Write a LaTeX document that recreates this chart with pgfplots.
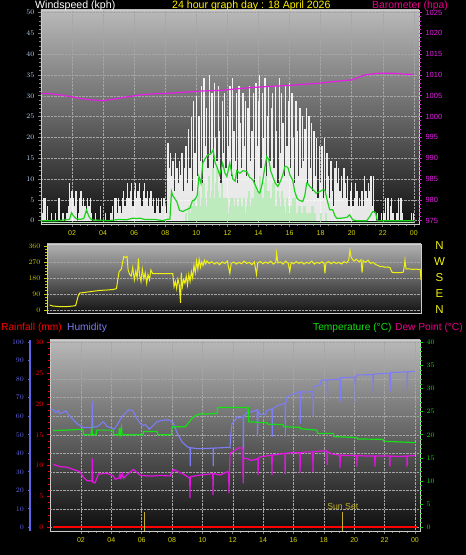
\documentclass[border=0pt]{standalone}
\usepackage{pgfplots}
\pgfplotsset{compat=1.18}
\usepackage{fontspec}
\setmainfont{Liberation Sans}
\definecolor{wlabel}{RGB}{190,220,255}
\definecolor{baro}{RGB}{230,30,230}
\definecolor{xyel}{RGB}{215,215,0}
\definecolor{dirlab}{RGB}{200,200,0}
\definecolor{diryel}{RGB}{240,240,20}
\definecolor{avggreen}{RGB}{30,210,30}
\definecolor{palegreen}{RGB}{190,235,190}
\definecolor{humblue}{RGB}{125,125,245}
\definecolor{humaxis}{RGB}{100,100,230}
\definecolor{tempgreen}{RGB}{20,225,20}
\definecolor{dewmag}{RGB}{228,20,228}
\definecolor{rainred}{RGB}{255,0,0}
\definecolor{gridc}{RGB}{165,165,165}
\definecolor{framec}{RGB}{205,205,205}
\definecolor{sunc}{RGB}{195,175,45}
\definecolor{bgtop}{RGB}{185,185,185}
\definecolor{bgbot}{RGB}{18,18,18}
\pgfplotsset{
  panel/.style={scale only axis, anchor=south west,
    tick label style={font=\fontsize{7}{8}\selectfont},
    major tick length=3pt, minor tick length=2pt, tick align=outside,
    every tick/.append style={line width=0.6pt},
  },
}
\begin{document}
\begin{tikzpicture}
\useasboundingbox (0,0) rectangle (466pt,555pt);
\fill[black] (0,0) rectangle (466pt,555pt);

% ---------------- top panel: wind speed ----------------
\begin{axis}[panel, at={(41pt,331pt)}, width=378pt, height=214pt,
  xmin=0, xmax=1460, ymin=-0.8, ymax=50.6,
  axis background/.style={top color=bgtop, bottom color=bgbot},
  axis line style={draw=framec, line width=0.8pt},
  xtick pos=left, ytick pos=left,
  xtick={120,240,...,1440}, xticklabels={02,04,06,08,10,12,14,16,18,20,22,00},
  minor x tick num=3,
  ytick={0,5,...,50}, minor y tick num=4,
  x tick label style={text=xyel},
  y tick label style={text=wlabel},
  xtick style={color=gray}, ytick style={color=gray},
  grid=major, grid style={gridc, densely dotted, line width=0.5pt},
]
\addplot[ycomb, white, line width=1.3pt, opacity=0.9, no marks] coordinates {
(0,0)(5,1.8)(10,5.4)(15,5.4)(20,0)(25,3.6)(30,0)(35,0)(40,1.8)(45,0)(50,0)(55,1.8)
(60,0)(65,0)(70,5.4)(75,0)(80,0)(85,1.8)(90,0)(95,0)(100,1.8)(105,3.6)(110,9)(115,5.4)
(120,7.2)(125,5.4)(130,3.6)(135,7.2)(140,0)(145,1.8)(150,5.4)(155,7.2)(160,3.6)(165,5.4)(170,3.6)(175,1.8)
(180,5.4)(185,3.6)(190,5.4)(195,1.8)(200,0)(205,0)(210,1.8)(215,0)(220,0)(225,0)(230,3.6)(235,0)
(240,0)(245,0)(250,1.8)(255,0)(260,0)(265,0)(270,1.8)(275,3.6)(280,0)(285,5.4)(290,5.4)(295,1.8)
(300,5.4)(305,3.6)(310,1.8)(315,5.4)(320,7.2)(325,3.6)(330,5.4)(335,9)(340,5.4)(345,7.2)(350,9)(355,3.6)
(360,7.2)(365,9)(370,5.4)(375,7.2)(380,9)(385,5.4)(390,3.6)(395,7.2)(400,9)(405,5.4)(410,7.2)(415,3.6)
(420,5.4)(425,7.2)(430,3.6)(435,5.4)(440,1.8)(445,5.4)(450,3.6)(455,5.4)(460,1.8)(465,5.4)(470,3.6)(475,5.4)
(480,3.6)(485,1.8)(490,18.6)(495,12.6)(500,16.2)(505,10.8)(510,14.4)(515,7.2)(520,16.2)(525,12.6)(530,9)(535,14.4)
(540,11)(545,16.2)(550,7.2)(555,12.6)
(560,18)(565,9)(570,22)(575,12.6)(580,25)(585,7.2)(590,28.8)(595,16.2)(600,30)(605,10.8)(610,25.2)(615,14.4)
(620,32.4)(625,9)(630,34.2)(635,18)(640,27)(645,12.6)(650,35)(655,16.2)(660,30.6)(665,10.8)(670,33)(675,19.8)
(680,14.4)(685,32.4)(690,21.6)(695,9)(700,28.8)(705,16.2)(710,30.6)(715,12.6)(720,25.2)(725,18)(730,32.4)(735,10.8)
(740,34.2)(745,21.6)(750,14.4)(755,30.6)(760,9)(765,32.4)(770,23.4)(775,12.6)(780,30.6)(785,18)(790,28.8)(795,10.8)
(800,27)(805,32.4)(810,14.4)(815,21.6)(820,30.6)(825,9)(830,33)(835,18)(840,28.8)(845,35)(850,12.6)(855,30.6)
(860,19.8)(865,34.2)(870,10.8)(875,25.2)(880,32.4)(885,14.4)(890,27)(895,30.6)(900,12.6)(905,32.4)(910,21.6)(915,9)
(920,34.2)(925,16.2)(930,30.6)(935,23.4)(940,10.8)(945,32.4)(950,18)(955,28.8)(960,33)(965,12.6)(970,30.6)(975,19.8)
(980,9)(985,28.8)(990,21.6)(995,10.8)(1000,27)(1005,12.6)(1010,25.2)(1015,14.4)
(1020,22)(1025,27)(1030,9)(1035,25.2)(1040,12.6)(1045,23.4)(1050,7.2)(1055,21.6)(1060,10.8)(1065,19.8)(1070,5.4)(1075,18)
(1080,9)(1085,18)(1090,5.4)(1095,19.8)(1100,7.2)(1105,16.2)(1110,10.8)(1115,5.4)(1120,14.4)(1125,7.2)(1130,3.6)(1135,12.6)
(1140,14.4)(1145,9)(1150,12.6)(1155,7.2)(1160,10.8)(1165,5.4)(1170,12.6)(1175,9)(1180,5.4)(1185,10.8)(1190,3.6)(1195,7.2)
(1200,9)(1205,3.6)(1210,5.4)(1215,9)(1220,7.2)(1225,3.6)(1230,5.4)(1235,3.6)(1240,7.2)(1245,3.6)(1250,10.8)(1255,7.2)
(1260,5.4)(1265,9)(1270,7.2)(1275,10.8)(1280,3.6)(1285,10.8)(1290,1.8)(1295,0)(1300,1.8)(1305,0)(1310,0)(1315,1.8)
(1320,0)(1325,1.8)(1330,5.4)(1335,0)(1340,5.4)(1345,0)(1350,3.6)(1355,5.4)(1360,1.8)(1365,0)(1370,0)(1375,1.8)
(1380,5.4)(1385,0)(1390,5.4)(1395,1.8)(1400,0)(1405,0)(1410,0)(1415,0)(1420,0)(1425,0)(1430,1.8)(1435,0)(1440,1.8)
};
\addplot[ycomb, palegreen, line width=2pt, no marks] coordinates {
(560,1.8)(565,0)(570,3.6)(575,1.8)(580,1.8)(585,3.6)(590,5.4)(595,1.8)(600,3.6)(605,5.4)(610,7.2)(615,3.6)
(620,5.4)(625,9)(630,9)(635,5.4)(640,3.6)(645,7.2)(650,10.8)(655,5.4)(660,7.2)(665,12.6)(670,5.4)(675,9)
(680,12.6)(685,7.2)(690,5.4)(695,3.6)(700,9)(705,5.4)(710,3.6)(715,5.4)(720,5.4)(725,1.8)(730,3.6)(735,5.4)
(740,5.4)(745,3.6)(750,1.8)(755,5.4)(760,3.6)(765,1.8)(770,5.4)(775,3.6)(780,3.6)(785,5.4)(790,1.8)(795,3.6)
(800,5.4)(805,7.2)(810,3.6)(815,5.4)(820,5.4)(825,9)(830,3.6)(835,7.2)(840,7.2)(845,10.8)(850,9)(855,5.4)
(860,5.4)(865,9)(870,10.8)(875,7.2)(880,7.2)(885,3.6)(890,5.4)(895,9)(900,9)(905,3.6)(910,3.6)(915,7.2)
(920,5.4)(925,3.6)(930,7.2)(935,5.4)(940,3.6)(945,1.8)(950,5.4)(955,3.6)(960,1.8)(965,3.6)(970,3.6)(975,5.4)
(980,5.4)(985,1.8)(990,1.8)(995,3.6)(1000,3.6)(1005,1.8)(1010,1.8)(1015,3.6)(1020,3.6)(1025,1.8)(1030,1.8)(1035,0)
(1040,1.8)(1045,3.6)(1050,3.6)(1055,1.8)(1060,1.8)(1070,0)(1080,1.8)(1090,0)(1100,1.8)
};
\addplot[palegreen, line width=1pt, no marks] coordinates {(0,-0.45)(1440,-0.45)};
\addplot[avggreen, line width=1.2pt, no marks] coordinates {
(0,0)(60,0)(110,0.3)(118,1.9)(125,1.2)(135,0.5)(150,0.3)(165,0.5)(176,2.6)(185,1)(195,0.2)(260,0)
(300,0.3)(330,0.2)(355,0.6)(370,0.5)(382,0.6)(400,0.3)(440,0.3)(470,0)(486,0.3)(498,0.4)(504,7)(509,6)
(518,5.2)(525,4.5)(535,2.5)(548,2.2)(560,2.6)(575,3)(585,4.8)(594,5)(603,6)(610,10.6)(618,9)(625,13.8)
(635,15)(644,15.8)(655,16)(665,17)(672,14)(679,13)(690,11)(702,13.8)(710,11.5)(718,10.6)(729,13.8)(735,12)
(741,10)(750,9.5)(756,12)(768,11.4)(780,12)(795,11.8)(805,10.5)(818,9.8)(828,8.5)(838,7)(845,6.6)(855,9)
(865,13)(872,15.4)(880,14.6)(887,12)(895,10.6)(905,9)(915,8.2)(925,9.5)(934,11)(942,13)(949,13)(955,12.6)
(961,11)(972,9.8)(980,7)(988,5.5)(995,5)(1003,4.8)(1011,4.6)(1019,6)(1026,9)(1032,8.8)(1038,8.2)(1050,7.5)
(1063,6.6)(1077,7)(1088,7.4)(1096,7.4)(1105,5)(1115,2.6)(1127,2.6)(1135,1.2)(1142,0.6)(1160,0.6)(1181,0.8)
(1192,1.4)(1204,0.2)(1220,0)(1258,0)(1270,1)(1281,2.2)(1292,2)(1297,0.5)(1300,0)(1440,0)
};
\end{axis}
\begin{axis}[panel, at={(41pt,331pt)}, width=378pt, height=214pt,
  xmin=0, xmax=1460, ymin=974.2, ymax=1025.6,
  axis y line*=right, axis x line=none,
  y axis line style={draw=none},
  ytick={975,980,...,1025},
  yticklabels={975,980,985,990,995,1000,1005,1010,1015,1020,1025},
  minor y tick num=4,
  y tick label style={text=baro, font=\fontsize{7.5}{8}\selectfont},
  ytick style={color=baro},
]
\addplot[baro, line width=1.2pt, no marks] coordinates {
(0,1005.6)(40,1005.5)(85,1005.1)(130,1004.6)(180,1004.1)(239,1003.8)(280,1004.2)(330,1004.7)(382,1005.2)
(440,1005.5)(498,1005.6)(540,1005.8)(587,1006.0)(640,1006.2)(700,1006.3)(729,1006.5)(780,1006.8)(840,1007.1)
(900,1007.3)(961,1007.5)(1020,1007.8)(1069,1008.0)(1130,1008.4)(1200,1008.8)(1250,1010.0)(1300,1010.4)
(1366,1010.4)(1400,1010.2)(1440,1010.1)
};
\end{axis}

% ---------------- middle panel: wind direction ----------------
\begin{axis}[panel, at={(47pt,242pt)}, width=374pt, height=69pt,
  xmin=-8, xmax=1440, ymin=-17, ymax=371,
  axis background/.style={top color=bgtop!110, bottom color=bgbot},
  axis line style={draw=framec, line width=0.8pt},
  xtick=\empty, ytick pos=left,
  ytick={0,90,180,270,360}, minor y tick num=4,
  y tick label style={text=dirlab},
  ytick style={color=dirlab},
  ymajorgrids, grid style={gridc, densely dotted, line width=0.5pt},
]
\addplot[diryel, line width=1pt, no marks] coordinates {
(2,28)(15,22)(41,19)(67,19)(92,22)(103,25)(112,75)(118,95)(144,100)(170,105)(196,110)(222,112)(247,115)
(261,120)(267,180)(271,215)(280,230)(289,300)(297,295)(302,300)(306,225)(312,200)(318,190)(324,240)(330,170)
(336,220)(341,180)(346,290)(350,200)(356,160)(361,230)(367,175)(372,210)(378,150)(383,200)(389,170)(394,225)
(401,205)(479,205)(484,130)(489,160)(494,120)(499,175)(504,140)(509,40)(512,210)(516,130)(521,170)(526,150)
(531,190)(536,140)(541,200)(546,160)(551,215)(556,180)(561,250)(566,210)(571,275)(576,230)(581,285)(586,240)
(591,270)(596,250)(601,280)(606,260)(611,275)(620,262)(630,272)(640,258)(650,268)(660,255)(670,270)(680,262)
(690,275)(700,206)(705,262)(715,270)(725,258)(735,268)(745,260)(755,275)(765,262)(775,268)(785,255)(795,270)
(803,200)(808,265)(818,272)(828,260)(838,270)(848,262)(858,275)(868,258)(878,268)(881,320)(886,265)(896,270)
(906,258)(916,275)(926,262)(932,215)(937,268)(947,260)(957,272)(967,262)(977,270)(987,258)(997,268)(1007,262)
(1017,275)(1027,258)(1037,268)(1047,262)(1057,272)(1065,260)(1068,206)(1072,265)(1082,272)(1092,260)(1102,270)
(1112,262)(1122,268)(1132,258)(1142,272)(1152,265)(1160,280)(1165,337)(1170,295)(1180,275)(1190,285)(1200,270)
(1208,282)(1212,210)(1216,278)(1225,268)(1235,280)(1245,262)(1255,268)(1265,255)(1275,250)(1281,244)(1290,245)
(1300,240)(1310,242)(1320,238)(1328,212)(1340,210)(1350,210)(1360,210)(1371,212)(1376,250)(1378,281)(1382,230)
(1390,232)(1400,230)(1410,228)(1420,230)(1430,228)(1437,228)(1440,170)
};
\end{axis}
\begin{axis}[panel, at={(47pt,242pt)}, width=374pt, height=69pt,
  xmin=-8, xmax=1440, ymin=-17, ymax=371,
  axis y line*=right, axis x line=none, y axis line style={draw=none},
  ytick={0,90,180,270,360}, yticklabels={N,E,S,W,N},
  major tick length=0pt,
  y tick label style={text=diryel, font=\fontsize{11.5}{12}\selectfont, anchor=center, xshift=18.5pt},
]
\addplot[draw=none] coordinates {(0,0)};
\end{axis}

% ---------------- bottom panel ----------------
\begin{axis}[panel, at={(50pt,24pt)}, width=370pt, height=191pt,
  xmin=-2.4, xmax=1460, ymin=-0.6, ymax=30.36,
  axis background/.style={top color=bgtop, bottom color=black!95},
  axis line style={draw=framec, line width=0.8pt},
  xtick pos=left, ytick pos=left,
  xtick={120,240,...,1440}, xticklabels={02,04,06,08,10,12,14,16,18,20,22,00},
  minor x tick num=3,
  ytick={0,5,...,30}, minor y tick num=4,
  x tick label style={text=xyel},
  y tick label style={text=rainred},
  xtick style={color=gray}, ytick style={color=rainred},
  xmajorgrids, grid style={gridc, densely dotted, line width=0.5pt},
  extra y ticks={0,3,...,30}, extra y tick labels={},
  extra y tick style={grid=major, major tick length=0pt},
]
\addplot[rainred, line width=1.6pt, no marks] coordinates {(10,0)(1450,0)};
\addplot[sunc, line width=1.1pt, no marks] coordinates {(370,-0.6)(370,2.5)};
\addplot[sunc, line width=1.1pt, no marks] coordinates {(1155,-0.6)(1155,2.5)};
\node[text=sunc, font=\fontsize{8.7}{9}\selectfont, inner sep=0pt] at (axis cs:1155,3.4) {Sun Set};
\end{axis}
\begin{axis}[panel, at={(50pt,24pt)}, width=370pt, height=191pt,
  xmin=-2.4, xmax=1460, ymin=-2, ymax=101.2, hide axis]
\addplot[humblue, line width=1.1pt, no marks] coordinates {
(0,64)(10,63.5)(20,62)(30,63)(37,61.5)(50,62)(60,63)(70,61)(77,60)(90,58)(105,56)(116,55)(128,54)(150,54)
(163,54)(165,68)(167,54)(185,54.5)(200,56)(207,57)(215,56)(223,54.5)(235,54)(250,53)(262,55)(274,58)(290,61)
(310,63.5)(326,63)(340,59)(355,56)(365,55)(375,55.5)(381,54.5)(390,53)(405,55)(420,57)(431,57.5)(450,58)
(470,58)(484,56.5)(500,51)(520,46)(540,43.5)(551,43)(552,33)(553,43)(580,42.5)(600,42.5)(642,42.8)(643,33)
(644,42.8)(680,43)(700,43.2)(709,43)(712,50)(717,56)(730,58)(737,59.8)(745,59)(761,60)(762,31)(763,60)
(776,62)(800,62.5)(816,63.5)(818,49)(820,63)(828,61)(850,61)(855,63)(875,64)(876,49)(877,64)(900,66)(927,67)
(928,49)(929,67)(935,70.6)(960,72)(986,73.3)(987,56)(988,73.3)(1010,73)(1037,73.5)(1038,60)(1040,76)(1065,77)
(1070,79.6)(1093,79.6)(1094,68)(1095,79.6)(1144,80)(1145,68)(1146,80.9)(1200,81)(1203,81)(1204,68)(1205,81)
(1211,82.3)(1274,82.5)(1275,72.4)(1276,82.7)(1300,83)(1341,83.2)(1342,73)(1343,83.6)(1409,84)(1410,72.4)
(1411,84)(1440,84.2)
};
\end{axis}
\begin{axis}[panel, at={(50pt,24pt)}, width=370pt, height=191pt,
  xmin=-2.4, xmax=1460, ymin=-0.8, ymax=40.48,
  axis y line*=right, axis x line=none, y axis line style={draw=none},
  ytick={0,5,...,40}, minor y tick num=4,
  y tick label style={text=tempgreen},
  ytick style={color=tempgreen},
]
\addplot[tempgreen, line width=1.2pt, no marks] coordinates {
(10,20.9)(60,21.0)(100,21.1)(128,21.2)(130,20.0)(160,20.0)(163,21.4)(166,20.0)(180,20.0)(182,21.0)(247,21.0)
(249,20.0)(270,20.0)(272,21.5)(275,20.0)(280,21.6)(283,20.0)(365,20.0)(367,20.7)(421,20.7)(423,20.0)(478,20.0)
(480,21.75)(533,21.75)(545,22.6)(560,23.6)(575,24.2)(590,24.5)(620,24.5)(658,24.6)(660,25.9)(781,25.9)
(783,22.8)(855,22.6)(857,22.3)(919,22.2)(921,21.75)(986,21.6)(988,21.3)(1053,21.0)(1055,20.3)(1117,20.3)
(1119,19.6)(1211,19.4)(1213,19.1)(1314,19.0)(1316,18.6)(1400,18.4)(1440,18.3)
};
\addplot[dewmag, line width=1.2pt, no marks] coordinates {
(11,13.6)(37,13.1)(64,13.0)(90,12.5)(116,12.0)(129,10.9)(143,10.1)(163,10.0)(165,14.9)(167,9.7)(176,9.6)
(189,11.5)(222,11.7)(248,11.1)(255,10.4)(270,10.6)(274,11.5)(278,10.6)(284,11.6)(288,10.6)(301,11.3)(327,12.5)
(353,11.3)(380,11.1)(406,11.1)(432,11.2)(472,11.1)(485,12.5)(525,11.5)(550,10.6)(551,6.3)(552,10.9)(580,11.2)
(610,11.4)(641,11.6)(642,7.0)(643,11.6)(670,11.3)(698,12.0)(704,11.8)(705,7.4)(707,12)(709,16.0)(730,16.7)
(745,17.2)(760,17.1)(761,9.5)(763,14.9)(776,14.9)(790,14.5)(810,14.6)(819,14.9)(820,11.3)(821,14.9)(828,15.2)
(850,15.4)(874,15.6)(875,11.3)(876,15.6)(900,15.8)(919,15.9)(926,16)(927,11.5)(928,16)(950,16.1)(985,16.1)
(986,11.8)(987,16.1)(1010,16.3)(1036,16.3)(1037,12)(1038,16.3)(1065,16.5)(1092,16.5)(1093,13.5)(1094,16.3)
(1117,15.8)(1143,15.6)(1144,12.8)(1145,15.6)(1180,15.5)(1210,15.5)(1211,13.1)(1212,15.5)(1250,15.4)(1281,15.4)
(1282,13.1)(1283,15.4)(1310,15.4)(1340,15.4)(1341,13.1)(1342,15.4)(1380,15.3)(1408,15.4)(1409,13.1)(1410,15.4)
(1440,15.5)
};
\end{axis}
\begin{axis}[panel, at={(30.5pt,24pt)}, width=1pt, height=191pt,
  xmin=0, xmax=1, ymin=-2, ymax=101.2,
  hide x axis, axis y line*=left,
  y axis line style={draw=humaxis, line width=2pt},
  ytick={0,10,...,100}, minor y tick num=1,
  y tick label style={text=humaxis},
  ytick style={color=humaxis},
]
\addplot[draw=none] coordinates {(0,0)};
\end{axis}

% ---------------- header texts ----------------
\node[anchor=base west, inner sep=0pt, text=white, font=\fontsize{10.6}{12}\selectfont] at (35pt,546pt) {Windspeed (kph)};
\node[anchor=base west, inner sep=0pt, text=yellow, font=\fontsize{10.6}{12}\selectfont] at (172pt,546pt) {24 hour graph day : 18 April 2026};
\node[anchor=base west, inner sep=0pt, text=magenta, font=\fontsize{10.4}{12}\selectfont] at (372pt,546pt) {Barometer (hpa)};
\node[anchor=base west, inner sep=0pt, text=rainred, font=\fontsize{10.2}{12}\selectfont] at (1pt,224.3pt) {Rainfall (mm)};
\node[anchor=base west, inner sep=0pt, text=humblue, font=\fontsize{10.2}{12}\selectfont] at (67pt,224.3pt) {Humidity};
\node[anchor=base west, inner sep=0pt, text=tempgreen, font=\fontsize{10.2}{12}\selectfont] at (313pt,224.3pt) {Temperature (°C)};
\node[anchor=base west, inner sep=0pt, text=magenta, font=\fontsize{10.2}{12}\selectfont] at (395pt,224.3pt) {Dew Point (°C)};
\end{tikzpicture}
\end{document}
